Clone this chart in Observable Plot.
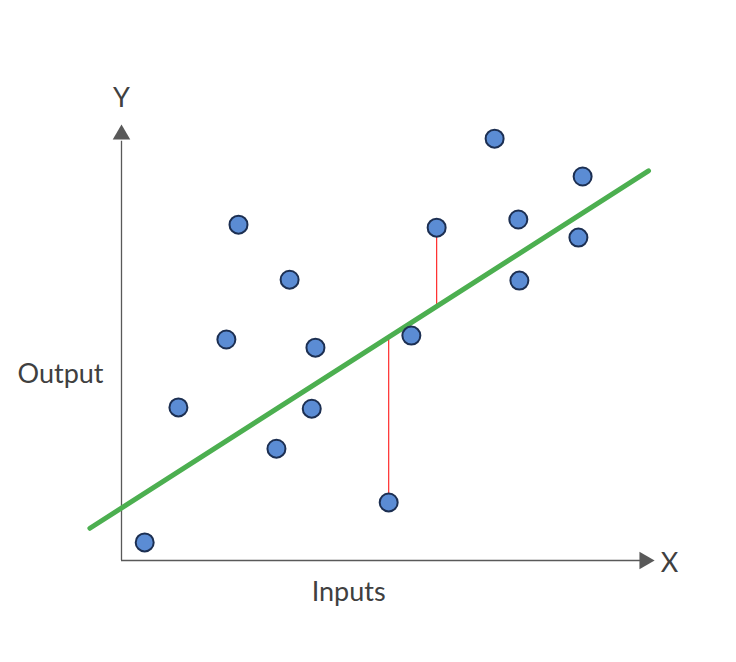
<!DOCTYPE html>
<html>
<head>
<meta charset="utf-8">
<script src="https://cdn.jsdelivr.net/npm/d3@7"></script>
<script src="https://cdn.jsdelivr.net/npm/@observablehq/plot@0.6"></script>
<style>
  html, body { margin: 0; padding: 0; background: #fff; }
  svg { display: block; }
</style>
</head>
<body>
<div id="chart"></div>
<script>
// Data (arbitrary units, axes run 0..100)
const xs = [4.4, 10.8, 19.9, 22.2, 29.4, 31.9, 36.1, 36.8, 50.7, 55.0, 59.8, 70.8, 75.3, 75.5, 86.7, 87.5];
const ys = [4.2, 35.6, 51.4, 78.1, 26.0, 65.3, 35.3, 49.5, 13.5, 52.3, 77.4, 98.1, 79.3, 65.1, 75.1, 89.3];
const fitIntercept = 12.2;
const fitSlope = 0.784;
const fitRange = [-6, 100];
const residualIdx = [8, 10];
const axisMax = 100;
const labels = { y: "Y", x: "X", yTitle: "Output", xTitle: "Inputs" };

const points = xs.map((x, i) => ({x, y: ys[i]}));
const fit = x => fitIntercept + fitSlope * x;
const fitLine = fitRange.map(x => ({x, y: fit(x)}));
const residuals = residualIdx.map(i => ({x: xs[i], y1: ys[i], y2: fit(xs[i])}));

const axisColor = "#595959";
const textColor = "#404040";
const font = "Lato, 'Open Sans', sans-serif";

const chart = Plot.plot({
  width: 736,
  height: 662,
  marginLeft: 121,
  marginRight: 88,
  marginTop: 130,
  marginBottom: 102,
  x: {domain: [0, axisMax], axis: null},
  y: {domain: [0, axisMax], axis: null},
  style: {fontFamily: font, background: "#fff"},
  marks: [
    // axes
    Plot.ruleY([0], {x1: 0, x2: axisMax * 0.985, stroke: axisColor, strokeWidth: 1.3}),
    Plot.ruleX([0], {y1: 0, y2: axisMax * 0.975, stroke: axisColor, strokeWidth: 1.3}),
    Plot.dot([{x: axisMax, y: 0}], {x: "x", y: "y", symbol: "triangle", r: 6.5, rotate: 90, fill: axisColor, stroke: "none", dx: -4}),
    Plot.dot([{x: 0, y: axisMax}], {x: "x", y: "y", symbol: "triangle", r: 6.5, fill: axisColor, stroke: "none", dy: 4}),
    // residuals
    Plot.link(residuals, {x1: "x", x2: "x", y1: "y1", y2: "y2", stroke: "#ff2a2a", strokeWidth: 1.2}),
    // fit line
    Plot.line(fitLine, {x: "x", y: "y", stroke: "#4caf50", strokeWidth: 5, clip: false}),
    // points
    Plot.dot(points, {x: "x", y: "y", r: 9, fill: "#5b8cd4", stroke: "#1c2f52", strokeWidth: 2}),
    // labels
    Plot.text([labels.y], {x: 0, y: axisMax, dy: -32, text: d => d, fontSize: 27, fill: textColor}),
    Plot.text([labels.x], {x: axisMax, y: 0, dx: 21, dy: 3, text: d => d, fontSize: 27, fill: textColor}),
    Plot.text([labels.yTitle], {x: 0, y: 43.3, dx: -61, text: d => d, fontSize: 27, fill: textColor}),
    Plot.text([labels.xTitle], {x: 43.1, y: 0, dy: 32, text: d => d, fontSize: 27, fill: textColor})
  ]
});
document.getElementById("chart").append(chart);
</script>
</body>
</html>
